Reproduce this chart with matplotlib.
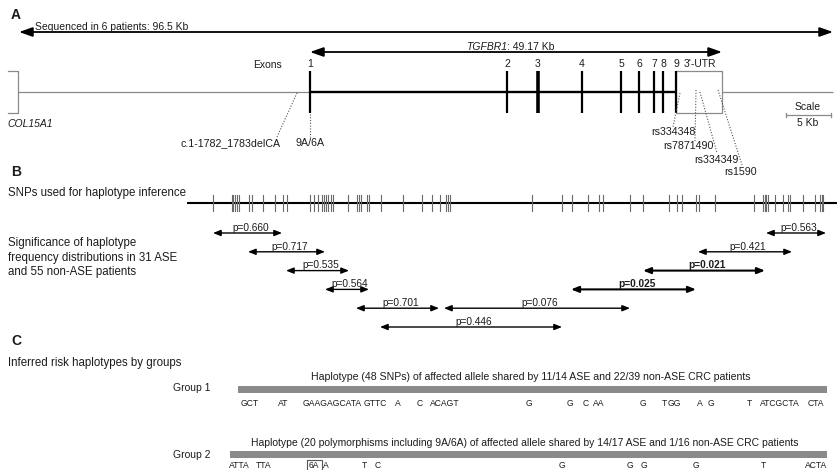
import matplotlib
matplotlib.use('Agg')
import matplotlib.pyplot as plt
from matplotlib.patches import Rectangle

plt.rcParams['font.family'] = ['Liberation Sans', 'DejaVu Sans']

# ---------------- data ----------------
# Panel A: gene map (x = horizontal position on the drawing)
seq_region = (19, 833)            # sequenced 96.5 Kb
gene_region = (310, 722)          # TGFBR1 49.17 Kb
exon_labels = ['1', '2', '3', '4', '5', '6', '7', '8', '9']
exon_x = [310, 507, 538, 582, 621, 639, 654, 663, 676]
exon_lw = [1.6, 1.6, 2.6, 1.6, 1.6, 1.6, 1.6, 1.6, 1.6]
utr_region = (676, 722)
variant_labels = ['c.1-1782_1783delCA', '9A/6A', 'rs334348', 'rs7871490', 'rs334349', 'rs1590']
variant_from = [(297, 93), (310, 114), (680, 93), (696, 90), (700, 92), (718, 90)]
variant_to = [(277, 137), (310, 137), (673, 127), (695, 141), (717, 153), (742, 165)]
variant_text = [(231, 143), (310, 143), (673, 132), (688, 146), (716, 160), (741, 172)]

# Panel B: SNP positions and haplotype-window tests
snp_x = [212.7, 231.7, 233.3, 235, 236.7, 239, 249, 252.3, 263.3, 275, 283.3, 287.3,
         310, 314.3, 318.3, 321.7, 324, 326, 328.3, 330.7, 333.3, 348.3, 357.3, 359.3,
         361, 367.3, 369.3, 380.7, 402.7, 421.7, 432.3, 440, 445.7, 447.7, 450,
         531.7, 561.7, 571.7, 587.5, 599.2, 602.7, 630, 643.3, 669.3, 677.3, 681.5,
         695.5, 698.7, 715, 753.7, 762.8, 764.5, 766.3, 768.3, 775, 783.3, 787.5,
         789.6, 802.7, 815, 820, 821.7, 823.3]
p_labels = ['p=0.660', 'p=0.717', 'p=0.535', 'p=0.564', 'p=0.701', 'p=0.076',
            'p=0.446', 'p=0.025', 'p=0.021', 'p=0.421', 'p=0.563']
p_start = [213, 248, 286, 325, 356, 444, 380, 571, 643, 698, 766]
p_end = [282, 325, 349, 369, 439, 630, 562, 696, 765, 792, 826]
p_row = [0, 1, 2, 3, 4, 4, 5, 3, 2, 1, 0]
p_bold = [False, False, False, False, False, False, False, True, True, False, False]

# Panel C: risk haplotypes
g1_title = 'Haplotype (48 SNPs) of affected allele shared by 11/14 ASE and 22/39 non-ASE CRC patients'
g1_frag = ['GCT', 'AT', 'GAAGAGCATA', 'GTTC', 'A', 'C', 'ACAGT', 'G', 'G', 'C', 'AA',
           'G', 'T', 'GG', 'A', 'G', 'T', 'ATCGCTA', 'CTA']
g1_x = [241, 278, 303, 364, 395, 417, 430, 526, 567, 583, 593, 640, 662, 668, 697,
        708, 747, 760, 808]
g2_title = ('Haplotype (20 polymorphisms including 9A/6A) of affected allele shared by '
            '14/17 ASE and 1/16 non-ASE CRC patients')
g2_frag = ['ATTA', 'TTA', '6A', 'A', 'T', 'C', 'G', 'G', 'G', 'G', 'T', 'ACTA']
g2_x = [229, 256, 309, 323, 362, 375, 559, 627, 641, 693, 761, 805]

# ---------------- drawing ----------------
W, H = 839, 470
fig = plt.figure(figsize=(W / 100, H / 100), dpi=100)
ax = fig.add_axes([0, 0, 1, 1])
ax.set_xlim(0, W)
ax.set_ylim(H, 0)
ax.axis('off')

TXT = '#1c1c1c'
GRAY = '#8a8a8a'
FS = 7.5
FSL = 8.3


def darrow(x0, x1, y, lw=1.0, hl=0.4, hw=0.17):
    ax.annotate('', xy=(x1, y), xytext=(x0, y),
                arrowprops=dict(arrowstyle=f'<|-|>,head_length={hl},head_width={hw}',
                                color='black', lw=lw, shrinkA=0, shrinkB=0))


# Panel labels
for lab, y in [('A', 15), ('B', 172), ('C', 341)]:
    ax.text(11, y, lab, fontsize=10, fontweight='bold', va='center', ha='left', color=TXT)

# ---- Panel A ----
darrow(seq_region[0], seq_region[1], 32, lw=1.3, hl=0.8, hw=0.28)
ax.text(35, 27, 'Sequenced in 6 patients: 96.5 Kb', fontsize=FS, va='center', color=TXT)
darrow(gene_region[0], gene_region[1], 52, lw=1.3, hl=0.8, hw=0.28)
ax.text(507, 47, 'TGFBR1', fontsize=FS, style='italic', ha='right', va='center', color=TXT)
ax.text(507, 47, ': 49.17 Kb', fontsize=FS, ha='left', va='center', color=TXT)

yg = 92
ax.plot([18, exon_x[0]], [yg, yg], color=GRAY, lw=0.9, solid_capstyle='butt')
ax.plot([utr_region[1], 833], [yg, yg], color=GRAY, lw=0.9, solid_capstyle='butt')
ax.plot([exon_x[0], exon_x[-1]], [yg, yg], color='black', lw=1.7, solid_capstyle='butt')
# COL15A1 bracket
ax.plot([8, 18, 18, 8], [71, 71, 113, 113], color=GRAY, lw=0.9)
ax.text(7, 124, 'COL15A1', fontsize=FS, style='italic', va='center', ha='left', color=TXT)
# 3'-UTR box
ax.add_patch(Rectangle((utr_region[0], 71), utr_region[1] - utr_region[0], 42,
                       fill=False, edgecolor=GRAY, lw=0.9))
for lab, x, lw in zip(exon_labels, exon_x, exon_lw):
    ax.plot([x, x], [71, 113], color='black', lw=lw, solid_capstyle='butt')
    ax.text(x, 64, lab, fontsize=FS, ha='center', va='center', color=TXT)
ax.text(700, 64, "3'-UTR", fontsize=FS, ha='center', va='center', color=TXT)
ax.text(267, 65, 'Exons', fontsize=FS, ha='center', va='center', color=TXT)
# scale bar
ax.plot([786, 831], [115, 115], color=GRAY, lw=0.9)
ax.plot([786, 786], [113, 117], color=GRAY, lw=0.9)
ax.plot([831, 831], [113, 117], color=GRAY, lw=0.9)
ax.text(808, 107, 'Scale', fontsize=FS, ha='center', va='center', color=TXT)
ax.text(808, 123, '5 Kb', fontsize=FS, ha='center', va='center', color=TXT)
# variants
for lab, p0, p1, pt in zip(variant_labels, variant_from, variant_to, variant_text):
    ax.plot([p0[0], p1[0]], [p0[1], p1[1]], color='#555555', lw=0.8, ls=(0, (1, 1.5)))
    ax.text(pt[0], pt[1], lab, fontsize=7.7, ha='center', va='center', color=TXT)

# ---- Panel B ----
ax.text(8, 193, 'SNPs used for haplotype inference', fontsize=FSL, va='center', color=TXT)
ax.plot([187, 837], [203, 203], color='black', lw=1.5, solid_capstyle='butt')
for x in snp_x:
    ax.plot([x, x], [195, 211], color='#6a6a6a', lw=0.8)
for i, line in enumerate(['Significance of haplotype', 'frequency distributions in 31 ASE',
                          'and 55 non-ASE patients']):
    ax.text(8, 243 + 14.5 * i, line, fontsize=FSL, va='center', color=TXT)
for lab, x0, x1, r, b in zip(p_labels, p_start, p_end, p_row, p_bold):
    y = 233 + 18.8 * r
    darrow(x0, x1, y, lw=1.5 if b else 1.0, hl=0.45, hw=0.18)
    ax.text((x0 + x1) / 2 + 3, y - 0.3, lab, fontsize=7.3, ha='center', va='bottom',
            fontweight='bold' if b else 'normal', color=TXT)

# ---- Panel C ----
ax.text(8, 363, 'Inferred risk haplotypes by groups', fontsize=FSL, va='center', color=TXT)
ax.text(173, 388, 'Group 1', fontsize=FS, va='center', color=TXT)
ax.text(531, 377, g1_title, fontsize=7.55, ha='center', va='center', color=TXT)
ax.add_patch(Rectangle((238, 386), 827 - 238, 6.5, color=GRAY, lw=0))
for f, x in zip(g1_frag, g1_x):
    ax.text(x, 403, f, fontsize=6.2, ha='left', va='center', color=TXT)

ax.text(173, 455, 'Group 2', fontsize=FS, va='center', color=TXT)
ax.text(525, 443, g2_title, fontsize=7.5, ha='center', va='center', color=TXT)
ax.add_patch(Rectangle((230, 451), 827 - 230, 6.5, color=GRAY, lw=0))
for f, x in zip(g2_frag, g2_x):
    ax.text(x, 466, f, fontsize=6.2, ha='left', va='center', color=TXT)
ax.add_patch(Rectangle((307, 459.5), 15, 12, fill=False, edgecolor='#555555', lw=0.8))

fig.savefig('out.png', dpi=100)
